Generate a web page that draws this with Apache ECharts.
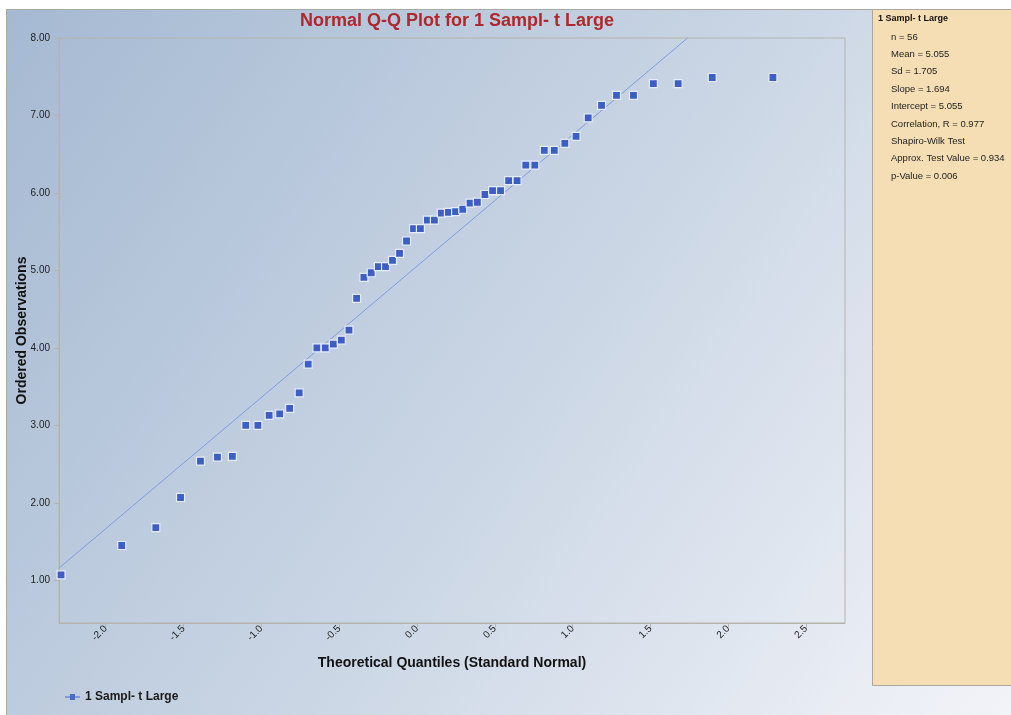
<!DOCTYPE html>
<html>
<head>
<meta charset="utf-8">
<script src="https://cdn.jsdelivr.net/npm/echarts@6/dist/echarts.min.js"></script>
<style>
html,body{margin:0;padding:0;background:#fff;}
#chart{width:1011px;height:715px;}
</style>
</head>
<body>
<div id="chart"></div>
<script>
// Theoretical quantiles (standard normal, Blom positions)
const quantiles = [
  -2.287,-1.897,-1.678,-1.519,-1.391,-1.282,-1.186,-1.100,-1.022,-0.950,
  -0.882,-0.818,-0.757,-0.699,-0.643,-0.589,-0.537,-0.486,-0.437,-0.388,
  -0.341,-0.294,-0.248,-0.202,-0.157,-0.112,-0.067,-0.022,
   0.022, 0.067, 0.112, 0.157, 0.202, 0.248, 0.294, 0.341, 0.388, 0.437,
   0.486, 0.537, 0.589, 0.643, 0.699, 0.757, 0.818, 0.882, 0.950, 1.022,
   1.100, 1.186, 1.282, 1.391, 1.519, 1.678, 1.897, 2.287
];
// Ordered observations
const observations = [
  1.07,1.45,1.68,2.07,2.54,2.59,2.60,3.00,3.00,3.13,
  3.15,3.22,3.42,3.79,4.00,4.00,4.05,4.10,4.23,4.64,
  4.91,4.97,5.05,5.05,5.13,5.22,5.38,5.54,5.54,5.65,
  5.65,5.74,5.75,5.76,5.79,5.87,5.88,5.98,6.03,6.03,
  6.16,6.16,6.36,6.36,6.55,6.55,6.64,6.73,6.97,7.13,
  7.26,7.26,7.41,7.41,7.49,7.49
];
const seriesName = '1 Sampl- t Large';
const slope = 1.694;
const intercept = 5.055;
const xTicks = [-2.0,-1.5,-1.0,-0.5,0.0,0.5,1.0,1.5,2.0,2.5];
const yTicks = [1,2,3,4,5,6,7,8];
const xRange = [-2.30, 2.75];
const yRange = [0.45, 8.0];
const statsTitle = '1 Sampl- t Large';
const statsLines = [
  'n = 56',
  'Mean = 5.055',
  'Sd = 1.705',
  'Slope = 1.694',
  'Intercept = 5.055',
  'Correlation, R = 0.977',
  'Shapiro-Wilk Test',
  'Approx. Test Value = 0.934',
  'p-Value = 0.006'
];

const points = quantiles.map((q, i) => [q, observations[i]]);
const xLineStart = xRange[0];
const xLineEnd = (yRange[1] - intercept) / slope;
const fitLine = [[xLineStart, intercept + slope * xLineStart], [xLineEnd, intercept + slope * xLineEnd]];

const FONT = '"Liberation Sans", Arial, sans-serif';
const chart = echarts.init(document.getElementById('chart'), null, {renderer: 'canvas'});

const graphics = [
  {
    type: 'rect', z: -10, silent: true,
    shape: {x: 6.5, y: 9.5, width: 1010, height: 710},
    style: {
      fill: new echarts.graphic.LinearGradient(0, 0, 1, 1, [
        {offset: 0, color: '#a5b9d2'},
        {offset: 0.5, color: '#c9d5e4'},
        {offset: 1, color: '#f3f4f9'}
      ]),
      stroke: '#a9a9a0', lineWidth: 1
    }
  },
  {
    type: 'rect', z: -5, silent: true,
    shape: {x: 872.5, y: 9.5, width: 140, height: 676},
    style: {fill: '#f5deb3', stroke: '#a8a8a0', lineWidth: 1}
  },
  {
    type: 'text', left: 878, top: 14,
    style: {text: statsTitle, font: 'bold 9px ' + FONT, fill: '#111'}
  }
];
statsLines.forEach((t, i) => {
  graphics.push({
    type: 'text', left: 891, top: 32 + i * 17.4,
    style: {text: t, font: '9.5px ' + FONT, fill: '#222'}
  });
});

chart.setOption({
  backgroundColor: '#ffffff',
  animation: false,
  title: {
    text: 'Normal Q-Q Plot for 1 Sampl- t Large',
    left: 452, top: 7, textAlign: 'center',
    textStyle: {color: '#b0282c', fontSize: 18, fontWeight: 'bold', fontFamily: FONT}
  },
  graphic: graphics,
  grid: {
    left: 59, top: 38, width: 786, height: 585,
    show: true, borderColor: '#b4b4ac', borderWidth: 1, backgroundColor: 'transparent'
  },
  legend: {
    left: 65, top: 691, padding: 0,
    itemWidth: 15, itemHeight: 8, itemGap: 10,
    textStyle: {fontFamily: FONT, fontSize: 12, fontWeight: 'bold', color: '#1a1a1a'},
    data: [{
      name: seriesName,
      icon: 'path://M0,3.5L5,3.5L5,1L10,1L10,3.5L15,3.5L15,4.5L10,4.5L10,7L5,7L5,4.5L0,4.5Z',
      itemStyle: {color: '#4a6acc', borderWidth: 0}
    }]
  },
  xAxis: {
    type: 'value',
    min: xRange[0], max: xRange[1],
    name: 'Theoretical Quantiles (Standard Normal)',
    nameLocation: 'middle', nameGap: 33, nameMoveOverlap: false,
    nameTextStyle: {fontFamily: FONT, fontSize: 14, fontWeight: 'bold', color: '#111'},
    axisLine: {show: true, onZero: false, lineStyle: {color: '#b4b4ac'}},
    axisTick: {show: true, length: 4, customValues: xTicks, lineStyle: {color: '#b4b4ac'}},
    axisLabel: {
      customValues: xTicks, rotate: 45, margin: 4,
      fontFamily: FONT, fontSize: 10, color: '#222',
      formatter: v => v.toFixed(1)
    },
    splitLine: {show: false}
  },
  yAxis: {
    type: 'value',
    min: yRange[0], max: yRange[1],
    name: 'Ordered Observations',
    nameLocation: 'middle', nameGap: 30, nameRotate: 90, nameMoveOverlap: false,
    nameTextStyle: {fontFamily: FONT, fontSize: 14, fontWeight: 'bold', color: '#111'},
    axisLine: {show: true, onZero: false, lineStyle: {color: '#b4b4ac'}},
    axisTick: {show: true, length: 5, customValues: yTicks, lineStyle: {color: '#b4b4ac'}},
    axisLabel: {
      customValues: yTicks, margin: 9,
      fontFamily: FONT, fontSize: 10, color: '#222',
      formatter: v => v.toFixed(2)
    },
    splitLine: {show: false}
  },
  series: [
    {
      name: 'fit',
      type: 'line',
      data: fitLine,
      showSymbol: false,
      symbol: 'none',
      silent: true,
      lineStyle: {color: '#7f9de0', width: 1},
      z: 2
    },
    {
      name: seriesName,
      type: 'scatter',
      data: points,
      symbol: 'rect',
      symbolSize: 8,
      itemStyle: {color: '#3d5fc4', borderColor: '#e6ecfa', borderWidth: 1.2, opacity: 1},
      z: 3
    }
  ]
});
</script>
</body>
</html>
